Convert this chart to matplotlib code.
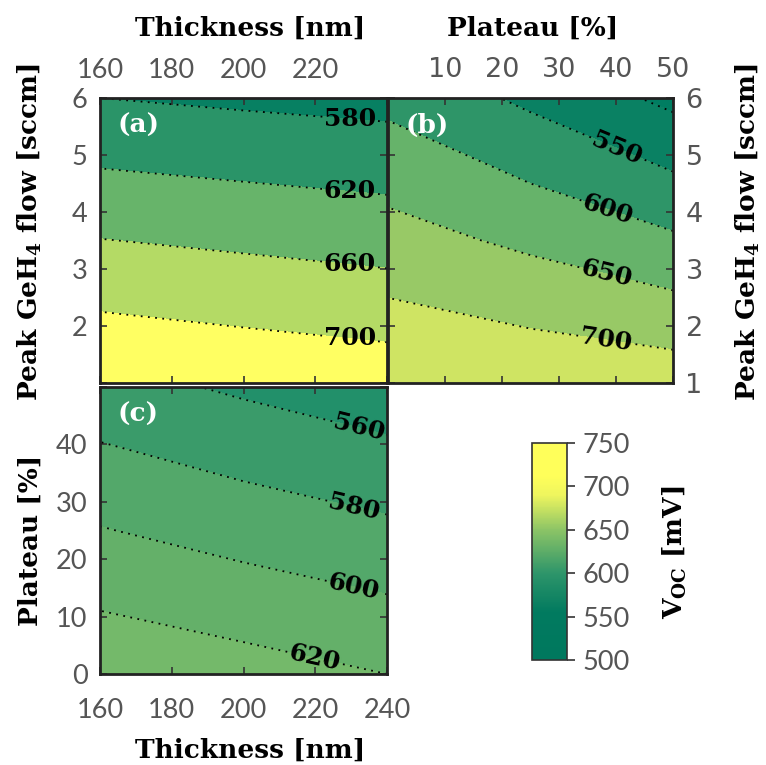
#importing the packages
import numpy as np
import matplotlib
matplotlib.use("Agg")
import matplotlib.pyplot as plt
from matplotlib.colors import LinearSegmentedColormap, Normalize
from matplotlib.cm import ScalarMappable

plt.rcParams['mathtext.fontset'] = 'dejavuserif'

#grid values (Voc in mV)
# (a) thickness vs peak GeH4 flow
a_thick = [160, 200, 240]
a_flow = [1, 3.5, 6]
a_voc = [[739, 730, 722],
         [661, 653, 645],
         [580, 573, 567]]
a_levels = [580, 620, 660, 700]
a_fill = [450, 580, 620, 660, 700, 800]
a_colors = ['#078062', '#2a9468', '#67b46a', '#b4da65', '#ffff62']

# (b) plateau vs peak GeH4 flow
b_plat = [0, 25, 50]
b_flow = [1, 3.5, 6]
b_voc = [[746, 737, 728],
         [669, 640, 608],
         [587, 540, 488]]
b_levels = [500, 550, 600, 650, 700]
b_fill = [400, 500, 550, 600, 650, 700, 800]
b_colors = ['#007d61', '#0a8163', '#2e9568', '#66b36a', '#98c966', '#cfe463']

# (c) thickness vs plateau
c_thick = [160, 200, 240]
c_plat = [0, 25, 50]
c_voc = [[635, 628, 620],
         [601, 592, 584],
         [567, 557, 548]]
c_levels = [560, 580, 600, 620]
c_fill = [500, 560, 580, 600, 620, 700]
c_colors = ['#22906a', '#3a9b6a', '#53a86a', '#64b069', '#74b96a']

cbar_ticks = [500, 550, 600, 650, 700, 750]

W, H = 766, 765
fig = plt.figure(figsize=(W / 100, H / 100), dpi=100)

def px_axes(x0, y0, x1, y1):
    return fig.add_axes([x0 / W, 1 - y1 / H, (x1 - x0) / W, (y1 - y0) / H])

TICK_SIZE = 19.5
label_font = dict(family='DejaVu Serif', weight='bold', size=19)

def style(ax, xpad=11):
    ax.tick_params(direction='in', length=5, width=1.2, color='#333333',
                   top=True, bottom=True, left=True, right=True,
                   labelsize=TICK_SIZE, labelcolor='#555555')
    ax.tick_params(axis='x', pad=xpad)
    ax.tick_params(axis='y', pad=9)
    for lab in ax.get_xticklabels() + ax.get_yticklabels():
        lab.set_family('Lato')
    for s in ax.spines.values():
        s.set_linewidth(2)
        s.set_color('#222222')

def panel(ax, xs, ys, zs, fill, colors, levels, manual, rot0=False):
    X, Y = np.meshgrid(xs, ys)
    Z = np.array(zs, dtype=float)
    ax.contourf(X, Y, Z, levels=fill, colors=colors)
    cs = ax.contour(X, Y, Z, levels=levels, colors='black',
                    linestyles=[(0, (1, 3))], linewidths=1.3)
    texts = ax.clabel(cs, manual=manual, fmt='%d', inline=True,
                      inline_spacing=4, fontsize=18)
    for t in texts:
        t.set_family('DejaVu Serif')
        t.set_weight('bold')
        if rot0:
            t.set_rotation(0)
    return cs

# (a)
ax_a = px_axes(100, 98, 387, 383)
panel(ax_a, a_thick, a_flow, a_voc, a_fill, a_colors, a_levels,
      [(229.6, 5.55), (229.6, 4.33), (229.6, 3.07), (229.6, 1.77)], rot0=True)
ax_a.set_xlim(160, 240)
ax_a.set_ylim(1, 6)
ax_a.set_xticks([160, 180, 200, 220, 240])
ax_a.set_xticklabels(['160', '180', '200', '220', ''])
ax_a.set_yticks([1, 2, 3, 4, 5, 6])
ax_a.set_yticklabels(['', '2', '3', '4', '5', '6'])
ax_a.xaxis.tick_top()
style(ax_a)
ax_a.tick_params(labeltop=True, labelbottom=False)

# (b)
ax_b = px_axes(388, 98, 673, 383)
panel(ax_b, b_plat, b_flow, b_voc, b_fill, b_colors, b_levels,
      [(39.8, 5.05), (38.1, 3.91), (38.1, 2.84), (38.1, 1.70)])
ax_b.set_xlim(0, 50)
ax_b.set_ylim(1, 6)
ax_b.set_xticks([0, 10, 20, 30, 40, 50])
ax_b.set_xticklabels(['', '10', '20', '30', '40', '50'])
ax_b.set_yticks([1, 2, 3, 4, 5, 6])
style(ax_b)
ax_b.tick_params(labeltop=True, labelbottom=False, labelleft=False, labelright=True)

# (c)
ax_c = px_axes(100, 387, 387, 674)
panel(ax_c, c_thick, c_plat, c_voc, c_fill, c_colors, c_levels,
      [(231.9, 42.0), (230.5, 28.1), (230.5, 14.5), (219.3, 1.4)])
ax_c.set_xlim(160, 240)
ax_c.set_ylim(0, 50)
ax_c.set_xticks([160, 180, 200, 220, 240])
ax_c.set_yticks([0, 10, 20, 30, 40, 50])
ax_c.set_yticklabels(['0', '10', '20', '30', '40', ''])
style(ax_c, xpad=17)

# panel letters
for ax, letter in [(ax_a, '(a)'), (ax_b, '(b)'), (ax_c, '(c)')]:
    ax.text(0.06, 0.905, letter, transform=ax.transAxes, color='white',
            family='DejaVu Serif', weight='bold', size=19, va='center', ha='left')

# colorbar
cmap = LinearSegmentedColormap.from_list('voc', [
    (0.0, '#00785e'), (0.22, '#017a5f'), (0.4, '#2e956a'),
    (0.6, '#8cc466'), (0.76, '#eef55e'), (0.85, '#ffff5a'), (1.0, '#ffff5a')])
cax = px_axes(532, 443, 567, 660)
sm = ScalarMappable(norm=Normalize(500, 750), cmap=cmap)
cb = fig.colorbar(sm, cax=cax, ticks=cbar_ticks)
cb.outline.set_linewidth(1.2)
cb.outline.set_edgecolor('#333333')
cax.tick_params(direction='out', length=6, width=1.2, color='#333333',
                labelsize=TICK_SIZE, labelcolor='#555555', pad=5)
for lab in cax.get_yticklabels():
    lab.set_family('Lato')

# axis titles
fig.text(250 / W, 1 - 28 / H, 'Thickness [nm]', ha='center', va='center', **label_font)
fig.text(533 / W, 1 - 28 / H, 'Plateau [%]', ha='center', va='center', **label_font)
fig.text(250 / W, 1 - 750 / H, 'Thickness [nm]', ha='center', va='center', **label_font)
fig.text(30 / W, 1 - 232 / H, 'Peak GeH$_\\mathregular{4}$ flow [sccm]', ha='center',
         va='center', rotation=90, **label_font)
fig.text(748 / W, 1 - 232 / H, 'Peak GeH$_\\mathregular{4}$ flow [sccm]', ha='center',
         va='center', rotation=90, **label_font)
fig.text(30 / W, 1 - 540 / H, 'Plateau [%]', ha='center', va='center', rotation=90, **label_font)
fig.text(675 / W, 1 - 552 / H, 'V$_\\mathbf{OC}$ [mV]', ha='center', va='center',
         rotation=90, **label_font)

fig.savefig('out.png', dpi=100)
